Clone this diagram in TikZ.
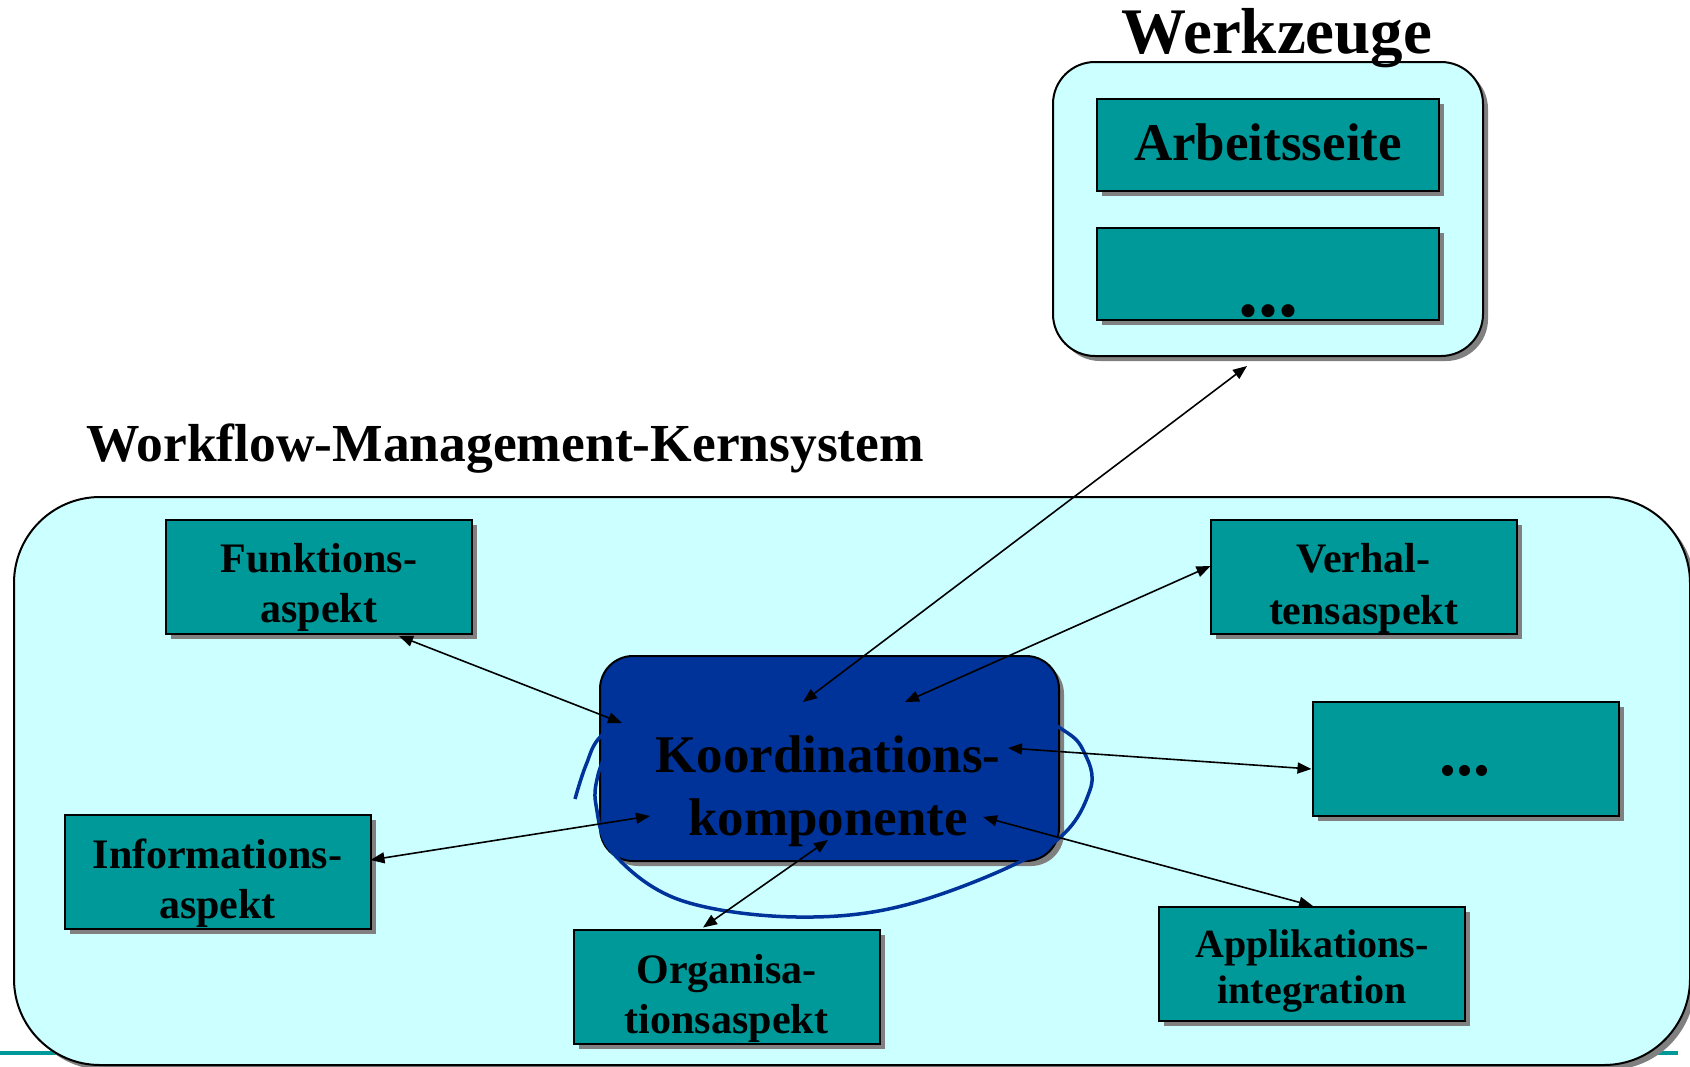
\documentclass[tikz,border=0pt]{standalone}
\usepackage{fontspec}
\setmainfont{Liberation Serif}
\usetikzlibrary{arrows.meta,calc,shadows}
\definecolor{lightcy}{HTML}{CCFFFF}
\definecolor{tealbox}{HTML}{009999}
\definecolor{koordblue}{HTML}{003399}
\definecolor{shadowgray}{HTML}{808080}
\begin{document}
\begin{tikzpicture}[x=1pt,y=-1pt,
  shadowed/.style={drop shadow={shadow xshift=5pt,shadow yshift=-5pt,opacity=1,fill=shadowgray}},
  bigbox/.style={draw=black,line width=2pt,fill=lightcy,inner sep=0pt,outer sep=0pt,shadowed},
  aspbox/.style={draw=black,line width=2pt,fill=tealbox,minimum width=306pt,minimum height=114pt,inner sep=0pt,outer sep=0pt,shadowed},
  toolbox/.style={draw=black,line width=2pt,fill=tealbox,minimum width=342pt,minimum height=92pt,inner sep=0pt,outer sep=0pt,shadowed},
  koordbox/.style={draw=black,line width=2pt,fill=koordblue,minimum width=459pt,minimum height=205pt,rounded corners=33pt,inner sep=0pt,outer sep=0pt,shadowed},
  txt/.style={inner sep=0pt,outer sep=0pt,align=center,anchor=base,font=\bfseries\fontsize{42}{50}\selectfont},
  conn/.style={{Triangle[length=14pt,width=11pt]}-{Triangle[length=14pt,width=11pt]},line width=1.6pt,black},
  loopline/.style={draw=koordblue,line width=3.5pt}
]
\useasboundingbox (0,0) rectangle (1690,1066);
\fill[white] (0,0) rectangle (1690,1066);

% bottom teal rule
\draw[tealbox,line width=4pt] (0,1053) -- (1678,1053);

% Werkzeuge group
\node[bigbox,minimum width=430pt,minimum height=294pt,rounded corners=42pt] (wz) at (1268,209) {};
\node[txt,font=\bfseries\fontsize{65}{70}\selectfont] (wztitle) at (1277,53) {Werkzeuge};
\node[toolbox] (arb) at (1268,145) {};
\node[txt,font=\bfseries\fontsize{53}{60}\selectfont] (arbtxt) at (1268,160) {Arbeitsseite};
\node[toolbox] (wzdots) at (1268,274) {};
\node[txt,font=\bfseries\fontsize{80}{80}\selectfont] (wzdotstxt) at (1268,316.5) {...};

% Kernsystem group
\node[txt,anchor=base west,font=\bfseries\fontsize{53.5}{60}\selectfont] (kstitle) at (86,461) {Workflow-Management-Kernsystem};
\node[bigbox,minimum width=1676pt,minimum height=568pt,rounded corners=86pt] (ks) at (852,781) {};

\node[aspbox] (fa) at (319,577) {};
\node[txt] (fatxt) at (319,622) {Funktions-\\aspekt};

\node[aspbox] (vh) at (1363.5,577) {};
\node[txt,font=\bfseries\fontsize{42}{52}\selectfont] (vhtxt) at (1363.5,624) {Verhal-\\tensaspekt};

\node[aspbox] (dt) at (1465.5,759) {};
\node[txt,font=\bfseries\fontsize{68}{68}\selectfont] (dttxt) at (1465,775) {...};

\node[aspbox] (ia) at (217.5,872) {};
\node[txt] (iatxt) at (217.5,918) {Informations-\\aspekt};

\node[aspbox] (oa) at (726.5,986.5) {};
\node[txt] (oatxt) at (726.5,1033) {Organisa-\\tionsaspekt};

\node[aspbox] (ap) at (1312,964) {};
\node[txt,font=\bfseries\fontsize{40}{46}\selectfont] (aptxt) at (1312,1003) {Applikations-\\integration};

% Koordinationskomponente
\node[koordbox] (kk) at (829.5,758.5) {};
\draw[loopline] plot[smooth,tension=0.6] coordinates {(575,799) (586,765) (602,735) (650,702) (830,684) (1000,697) (1060,728) (1083,750) (1090,790) (1047,847) (913,903) (797,917) (680,900) (613,853) (596,805) (598,775) (608,750)};
\node[txt,font=\bfseries\fontsize{53}{63}\selectfont] (kktxt) at (828,835) {Koordinations-\\komponente};

% connectors
\draw[conn] ($(kk.center)+(-26.5,-56.5)$) -- ($(wz.south)+(-21,10)$);
\draw[conn] ($(kk.center)+(75.5,-56.5)$) -- ($(vh.west)+(0,-11)$);
\draw[conn] ($(fa.south)+(80,2)$) -- ($(kk.center)+(-207.5,-35.5)$);
\draw[conn] ($(kk.center)+(178.5,-10.5)$) -- ($(dt.west)+(-1,10)$);
\draw[conn] ($(ia.east)+(0,-12)$) -- ($(kk.center)+(-179.5,57.5)$);
\draw[conn] ($(oa.north)+(-23.5,-2)$) -- ($(kk.center)+(-1.5,81.5)$);
\draw[conn] ($(kk.center)+(153.5,58.5)$) -- ($(ap.north)+(1,-1)$);
\end{tikzpicture}
\end{document}
